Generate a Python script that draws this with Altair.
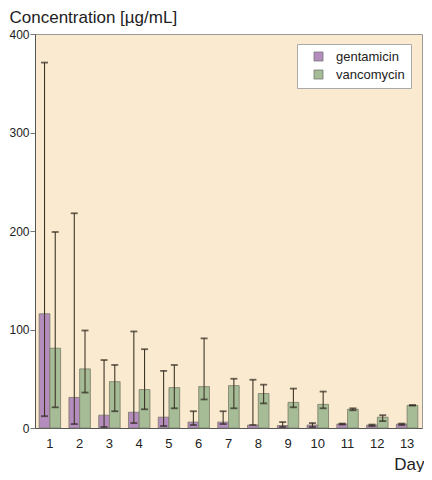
import altair as alt
import pandas as pd

days = [str(d) for d in range(1, 14)]
drugs = ["gentamicin", "vancomycin"]

gent_mean = [116, 31, 13, 16, 11, 6, 6, 3, 2.5, 3, 4, 3, 4]
gent_low = [12, 4, 1, 5, 2, 3, 4, 3, 1, 1, 3.5, 2, 3]
gent_high = [371, 218, 69, 98, 58, 17, 17, 49, 6, 5, 4.5, 3.5, 4.5]

vanc_mean = [81, 60, 47, 39, 41, 42, 43, 35, 26, 24, 19, 11, 23]
vanc_low = [21, 36, 17, 19, 20, 29, 20, 25, 21, 20, 18, 7, 22.8]
vanc_high = [199, 99, 64, 80, 64, 91, 50, 44, 40, 37, 20, 13, 23.2]

rows = []
for i, d in enumerate(days):
    rows.append({"Day": d, "Drug": drugs[0], "mean": gent_mean[i], "low": gent_low[i], "high": gent_high[i]})
    rows.append({"Day": d, "Drug": drugs[1], "mean": vanc_mean[i], "low": vanc_low[i], "high": vanc_high[i]})
df = pd.DataFrame(rows)

FONT = "Liberation Sans"
colors = ["#B48CBE", "#A5BC96"]
TW, TH = 416, 464

x = alt.X("Day:O", sort=days,
          scale=alt.Scale(paddingInner=0.28, paddingOuter=0.14),
          axis=alt.Axis(title="Day", labelAngle=0, ticks=False, tickSize=0,
                        labelPadding=9, labelFontSize=13, labelColor="#222",
                        labelFont=FONT, domainColor="#555", domainWidth=1,
                        titleFont=FONT, titleFontSize=17, titleFontWeight="normal",
                        titleColor="#222", titleAlign="right", titleAnchor="end",
                        titleX={"expr": "width + 2"}, titleY=41, titleBaseline="alphabetic"))
y = alt.Y("mean:Q", scale=alt.Scale(domain=[0, 400], nice=False),
          axis=alt.Axis(title="Concentration [µg/mL]", values=[0, 100, 200, 300, 400],
                        grid=False, tickSize=5, tickColor="#777", labelPadding=1,
                        labelFontSize=12, labelColor="#222", labelFont=FONT,
                        domainColor="#555", domainWidth=1,
                        titleFont=FONT, titleFontSize=17, titleFontWeight="normal",
                        titleColor="#222", titleAngle=0, titleAlign="left",
                        titleX=-26, titleY=-12, titleBaseline="alphabetic"))
xo = alt.XOffset("Drug:N", sort=drugs)

bars = alt.Chart(df).mark_bar(stroke="#7a7a6a", strokeWidth=0.8).encode(
    x=x, xOffset=xo, y=y,
    color=alt.Color("Drug:N", sort=drugs,
                    scale=alt.Scale(domain=drugs, range=colors),
                    legend=alt.Legend(title=None, orient="none", legendX=262, legendY=10,
                                      fillColor="white", strokeColor="#aaa",
                                      padding=6, symbolType="square", symbolSize=81,
                                      symbolOffset=9,
                                      symbolStrokeColor="#777", symbolStrokeWidth=0.8,
                                      labelFont=FONT, labelFontSize=13, labelColor="#222",
                                      labelExpr="datum.label + '\u00a0\u00a0\u00a0\u00a0\u00a0'",
                                      rowPadding=4, labelOffset=11,
                                      cornerRadius=0)),
)

rules = alt.Chart(df).mark_rule(color="#3f3628", strokeWidth=1.1).encode(
    x=alt.X("Day:O", sort=days), xOffset=xo,
    y=alt.Y("low:Q"), y2="high:Q")

cap_hi = alt.Chart(df).mark_tick(color="#2e261e", thickness=1.8, size=7).encode(
    x=alt.X("Day:O", sort=days), xOffset=xo, y=alt.Y("high:Q"))
cap_lo = alt.Chart(df).mark_tick(color="#2e261e", thickness=1.8, size=7).encode(
    x=alt.X("Day:O", sort=days), xOffset=xo, y=alt.Y("low:Q"))

chart = alt.layer(bars, rules, cap_hi, cap_lo).properties(
    width=TW, height=TH, padding=0,
    autosize=alt.AutoSizeParams(type="fit", contains="padding")
).configure_view(
    fill="#FAEBD0", stroke="#9a9a9a", strokeWidth=1
).configure_axis(labelFont=FONT)

chart.save("out.html", embed_options={"renderer": "svg", "actions": False})
